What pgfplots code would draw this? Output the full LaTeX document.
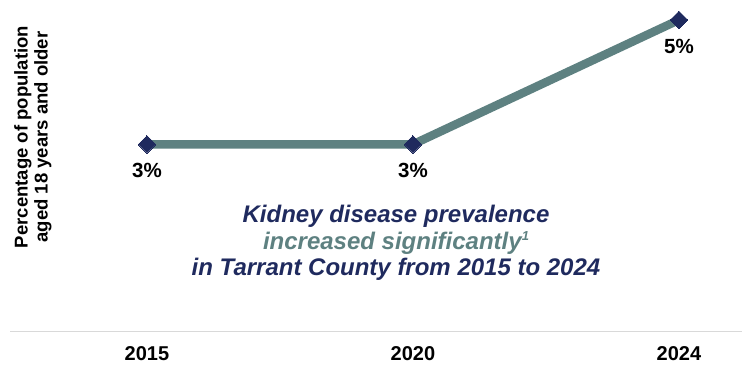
\documentclass[border=0pt]{standalone}
\usepackage{pgfplots}
\pgfplotsset{compat=1.18}
\usepackage{fontspec}
\setmainfont{Liberation Sans}
\definecolor{navy}{HTML}{1F2A5E}
\definecolor{tealgray}{HTML}{5E8181}
\definecolor{basegray}{HTML}{D9D9D9}
\begin{document}
\begin{tikzpicture}
\path[use as bounding box] (-10bp,-36bp) rectangle (732bp,331bp);
\begin{axis}[
  at={(0,0)}, anchor=south west,
  scale only axis, width=732bp, height=331bp,
  xmin=-0.515, xmax=2.237, ymin=0, ymax=5.32,
  axis x line=bottom, axis y line=none,
  x axis line style={draw=basegray, line width=1bp, -},
  xtick={0,1,2}, xticklabels={2015,2020,2024},
  major tick length=0pt,
  xticklabel style={font=\bfseries\fontsize{20bp}{22bp}\selectfont, anchor=center, yshift=-22.5bp, text=black},
  ytick=\empty,
  clip=false,
]
\addplot[color=tealgray, line width=8.5bp, mark=square*, mark size=6.2bp,
  mark options={rotate=45, fill=navy, draw=navy, line width=0pt},
  point meta=explicit symbolic, nodes near coords,
  nodes near coords style={anchor=center, yshift=-26.5bp, text=black, font=\bfseries\fontsize{20.5bp}{22bp}\selectfont}]
  coordinates {(0,3) [3\%] (1,3) [3\%] (2,5) [5\%]};
\end{axis}
\node[rotate=90, align=center, font=\bfseries\fontsize{18.5bp}{20bp}\selectfont] at (23bp,194bp)
  {Percentage of population\\aged 18 years and older};
\node[align=center, font=\bfseries\itshape\fontsize{24bp}{26.5bp}\selectfont, text=navy] at (386bp,88bp)
  {Kidney disease prevalence\\
   \textcolor{tealgray}{increased significantly\raisebox{9bp}{\fontsize{13bp}{14bp}\selectfont 1}}\\
   in Tarrant County from 2015 to 2024};
\end{tikzpicture}
\end{document}
